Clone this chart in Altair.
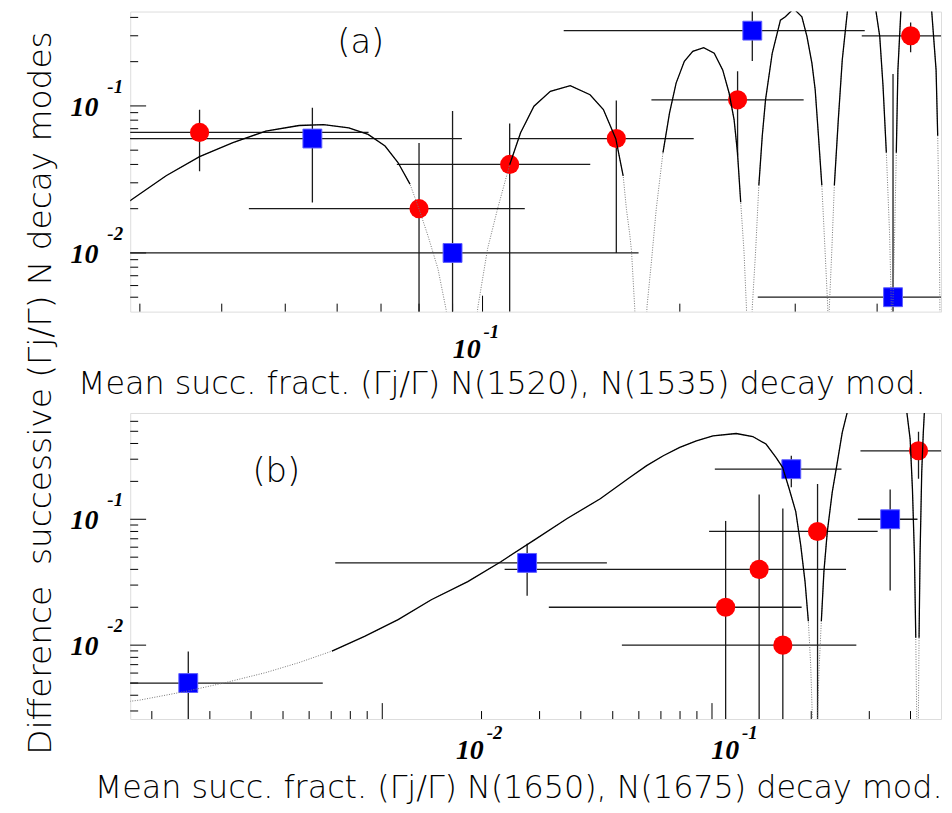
import altair as alt
import pandas as pd

# ---------------- panel (a): N(1520), N(1535) ----------------
a_red_x   = [0.037, 0.080, 0.110, 0.160, 0.245, 0.450]
a_red_y   = [0.066, 0.020, 0.040, 0.060, 0.110, 0.300]
a_red_xlo = [0.020, 0.044, 0.074, 0.110, 0.181, 0.379]
a_red_xhi = [0.067, 0.116, 0.146, 0.210, 0.309, 0.600]
a_red_ylo = [0.036, 0.001, 0.001, 0.010, 0.046, 0.232]
a_red_yhi = [0.094, 0.056, 0.076, 0.109, 0.172, 0.370]

a_blue_x   = [0.055, 0.090, 0.258, 0.423]
a_blue_y   = [0.060, 0.010, 0.325, 0.005]
a_blue_xlo = [0.020, 0.020, 0.133, 0.263]
a_blue_xhi = [0.093, 0.173, 0.383, 0.600]
a_blue_ylo = [0.022, 0.001, 0.202, 0.001]
a_blue_yhi = [0.097, 0.0925, 0.446, 0.165]

a_arc1_x = [0.0285, 0.0329, 0.0370, 0.0416, 0.0467, 0.0525, 0.0572, 0.0625, 0.0669, 0.0710,
            0.0743, 0.0775, 0.0800, 0.0825, 0.0855, 0.0880, 0.0885]
a_arc1_y = [0.0215, 0.0335, 0.0452, 0.0562, 0.0675, 0.0736, 0.0747, 0.0710, 0.0640, 0.0534,
            0.0412, 0.0294, 0.0199, 0.0132, 0.0078, 0.0041, 0.0030]
a_arc2_x = [0.0979, 0.0983, 0.1018, 0.1054, 0.1100, 0.1143, 0.1198, 0.1269, 0.1361, 0.1459,
            0.1529, 0.1597, 0.1639, 0.1658, 0.1678, 0.1688, 0.1707, 0.1712]
a_arc2_y = [0.0030, 0.0042, 0.0107, 0.0199, 0.0398, 0.0657, 0.0995, 0.1257, 0.1372, 0.1192,
            0.0944, 0.0599, 0.0335, 0.0198, 0.0132, 0.0102, 0.0042, 0.0030]
a_arc3_x = [0.1778, 0.1782, 0.1810, 0.1841, 0.1885, 0.1929, 0.1974, 0.2032, 0.2093, 0.2175,
            0.2257, 0.2325, 0.2378, 0.2420, 0.2449, 0.2477, 0.2506, 0.2527, 0.2534]
a_arc3_y = [0.0030, 0.0043, 0.0087, 0.0199, 0.0481, 0.0897, 0.1430, 0.2014, 0.2352, 0.2491,
            0.2281, 0.1759, 0.1224, 0.0808, 0.0481, 0.0221, 0.0102, 0.0043, 0.0030]
a_arc4_x = [0.2574, 0.2580, 0.2610, 0.2640, 0.2672, 0.2703, 0.2767, 0.2848, 0.2898, 0.2983,
            0.3071, 0.3126, 0.3181, 0.3218, 0.3255, 0.3294, 0.3332, 0.3363, 0.3367]
a_arc4_y = [0.0030, 0.0043, 0.0102, 0.0288, 0.0627, 0.1103, 0.2281, 0.3829, 0.4037, 0.4594,
            0.4037, 0.2972, 0.1952, 0.1289, 0.0627, 0.0288, 0.0102, 0.0043, 0.0030]
a_arc5_x = [0.3379, 0.3382, 0.3411, 0.3442, 0.3490, 0.3539, 0.3614, 0.3640]
a_arc5_y = [0.0030, 0.0043, 0.0102, 0.0288, 0.0804, 0.2055, 0.4966, 0.6000]
a_arc6_x = [0.3939, 0.3968, 0.4037, 0.4084, 0.4132, 0.4180, 0.4205, 0.4208]
a_arc6_y = [0.6000, 0.4966, 0.2972, 0.1365, 0.0481, 0.0132, 0.0043, 0.0030]
a_arc7_x = [0.4224, 0.4227, 0.4254, 0.4279, 0.4303, 0.4354, 0.4366]
a_arc7_y = [0.0030, 0.0043, 0.0132, 0.0481, 0.1751, 0.4966, 0.6000]
a_arc8_x = [0.4825, 0.4836, 0.4921, 0.4949, 0.4978, 0.4987, 0.4990]
a_arc8_y = [0.6000, 0.4966, 0.1751, 0.0627, 0.0132, 0.0043, 0.0030]

# ---------------- panel (b): N(1650), N(1675) ----------------
b_red_x   = [0.110, 0.139, 0.164, 0.209, 0.423]
b_red_y   = [0.020, 0.040, 0.010, 0.080, 0.350]
b_red_xlo = [0.032, 0.0235, 0.0533, 0.098, 0.282]
b_red_xhi = [0.187, 0.255, 0.274, 0.318, 0.600]
b_red_ylo = [0.001, 0.001, 0.001, 0.001, 0.2096]
b_red_yhi = [0.097, 0.157, 0.1215, 0.191, 0.495]

b_blue_x   = [0.00258, 0.0275, 0.174, 0.347]
b_blue_y   = [0.005, 0.045, 0.250, 0.100]
b_blue_xlo = [0.001, 0.0072, 0.102, 0.277]
b_blue_xhi = [0.0066, 0.048, 0.247, 0.420]
b_blue_ylo = [0.001, 0.0247, 0.180, 0.0272]
b_blue_yhi = [0.0089, 0.064, 0.320, 0.1725]

b_arc1_x = [0.001715, 0.001838, 0.002577, 0.003355, 0.004429, 0.005582, 0.007035, 0.008867,
            0.01117, 0.01408, 0.01817, 0.02289, 0.02887, 0.03637, 0.04583, 0.05644, 0.06337,
            0.07116, 0.07983, 0.08968, 0.1007, 0.1184, 0.1329, 0.1458, 0.1563, 0.1637, 0.1714,
            0.1795, 0.1858, 0.1915, 0.1960, 0.1992, 0.2016, 0.2020]
b_arc1_y = [0.00358, 0.00366, 0.00433, 0.00505, 0.00605, 0.00726, 0.00897, 0.01178,
            0.01595, 0.02294, 0.03199, 0.04603, 0.0683, 0.1013, 0.1457, 0.2157, 0.2668,
            0.3199, 0.3720, 0.4202, 0.4603, 0.4799, 0.4545, 0.3958, 0.3102, 0.2586, 0.1747,
            0.1150, 0.0623, 0.0320, 0.0155, 0.0070, 0.0026, 0.0020]
b_arc2_x = [0.2088, 0.2090, 0.2111, 0.2146, 0.2185, 0.2237, 0.2316, 0.2399, 0.2483, 0.2570, 0.2612]
b_arc2_y = [0.0020, 0.0026, 0.00623, 0.0155, 0.0384, 0.0794, 0.1643, 0.2833, 0.4887, 0.7030, 0.8700]
b_arc3_x = [0.3853, 0.3900, 0.3990, 0.4054, 0.4111, 0.4150, 0.4178, 0.4180]
b_arc3_y = [0.8700, 0.7030, 0.4334, 0.1747, 0.0520, 0.01144, 0.0026, 0.0020]
b_arc4_x = [0.4225, 0.4227, 0.4246, 0.4276, 0.4326, 0.4374, 0.4406, 0.4420]
b_arc4_y = [0.0020, 0.0026, 0.01144, 0.0520, 0.2362, 0.4887, 0.7030, 0.8700]

# axis ticks and labels
a_xtick_minor = [0.03, 0.04, 0.05, 0.06, 0.07, 0.08, 0.09, 0.2, 0.3, 0.4]
a_xtick_major = [0.1]
a_ytick_minor = [0.005, 0.006, 0.007, 0.008, 0.009, 0.02, 0.03, 0.04, 0.05, 0.06, 0.07,
                 0.08, 0.09, 0.2, 0.3, 0.4]
a_ytick_major = [0.01, 0.1]
b_xtick_minor = [0.002, 0.003, 0.004, 0.005, 0.006, 0.007, 0.008, 0.009, 0.02, 0.03, 0.04,
                 0.05, 0.06, 0.07, 0.08, 0.09, 0.2, 0.3, 0.4]
b_xtick_major = [0.01, 0.1]
b_ytick_minor = [0.003, 0.004, 0.005, 0.006, 0.007, 0.008, 0.009, 0.02, 0.03, 0.04, 0.05,
                 0.06, 0.07, 0.08, 0.09, 0.2, 0.3, 0.4, 0.5, 0.6]
b_ytick_major = [0.01, 0.1]
a_xlab_at = [0.1]              # where the "10^n" labels sit on the x axis, as read
b_xlab_at = [0.0206, 0.1225]
a_xlab_exp = ["-1"]
a_ylab_exp = ["-2", "-1"]
b_xlab_exp = ["-2", "-1"]
b_ylab_exp = ["-2", "-1"]

a_xtitle = "Mean succ. fract. (\u0393j/\u0393) N(1520), N(1535) decay mod."
b_xtitle = "Mean succ. fract. (\u0393j/\u0393) N(1650), N(1675) decay mod."
ytitle = "Difference\u00a0\u00a0successive (\u0393j/\u0393) N decay modes"

TFONT = "DejaVu Sans"
LFONT = "Liberation Serif"
W = 816


def pts(x, y, xlo, xhi, ylo, yhi):
    return pd.DataFrame(dict(x=x, y=y, xlo=xlo, xhi=xhi, ylo=ylo, yhi=yhi))


def arcs(*pairs):
    rows = []
    for s, (xs, ys) in enumerate(pairs):
        for i, (xv, yv) in enumerate(zip(xs, ys)):
            rows.append(dict(seg=s, i=i, x=xv, y=yv))
    return pd.DataFrame(rows)


def panel(H, xdom, ydom, red, blue, curve, thr, xmin, xmaj, ymin, ymaj, xlab_at,
          xexp, yexp, tag, tagpos, xtitle, xtitle_pos, xlab_y, extra=None):
    xs = alt.Scale(type="log", domain=xdom, nice=False)
    ys = alt.Scale(type="log", domain=ydom, nice=False)
    X = lambda f: alt.X(f, type="quantitative", scale=xs, axis=None)
    Y = lambda f: alt.Y(f, type="quantitative", scale=ys, axis=None)
    layers = []
    # ticks (inward, ROOT style)
    layers.append(alt.Chart(pd.DataFrame({"v": xmin})).mark_rule(color="black", strokeWidth=1)
                  .encode(x=X("v"), y=alt.value(H), y2=alt.value(H - 8)))
    layers.append(alt.Chart(pd.DataFrame({"v": xmaj})).mark_rule(color="black", strokeWidth=1)
                  .encode(x=X("v"), y=alt.value(H), y2=alt.value(H - 16)))
    layers.append(alt.Chart(pd.DataFrame({"v": ymin})).mark_rule(color="black", strokeWidth=1)
                  .encode(y=Y("v"), x=alt.value(0), x2=alt.value(8)))
    layers.append(alt.Chart(pd.DataFrame({"v": ymaj})).mark_rule(color="black", strokeWidth=1)
                  .encode(y=Y("v"), x=alt.value(0), x2=alt.value(16)))
    # error bars
    for df in (red, blue):
        layers.append(alt.Chart(df).mark_rule(color="#1a1a1a", strokeWidth=1.3, clip=True)
                      .encode(x=X("xlo"), x2="xhi", y=Y("y")))
        layers.append(alt.Chart(df).mark_rule(color="#1a1a1a", strokeWidth=1.3, clip=True)
                      .encode(x=X("x"), y=Y("ylo"), y2="yhi"))
    # markers
    layers.append(alt.Chart(red).mark_point(shape="circle", filled=True, size=372,
                                            color="#ff0000", opacity=1, clip=True)
                  .encode(x=X("x"), y=Y("y")))
    layers.append(alt.Chart(blue).mark_point(shape="square", filled=True, size=361,
                                             color="#0000ff", stroke="#6060ff", strokeWidth=1,
                                             opacity=1, clip=True)
                  .encode(x=X("x"), y=Y("y")))
    # curve: thin dotted everywhere, solid where it is not too steep / low
    layers.append(alt.Chart(curve).mark_line(color="#777777", strokeWidth=1,
                                             strokeDash=[1, 1.5], clip=True)
                  .encode(x=X("x"), y=Y("y"), detail="seg:N", order="i:Q"))
    layers.append(alt.Chart(curve).transform_filter(alt.datum.y >= thr)
                  .mark_line(color="black", strokeWidth=1.3, clip=True)
                  .encode(x=X("x"), y=Y("y"), detail="seg:N", order="i:Q"))
    # tick labels
    layers.append(alt.Chart(pd.DataFrame({"v": xlab_at, "t": ["10"] * len(xlab_at)}))
                  .mark_text(font=LFONT, fontStyle="italic", fontWeight="bold", fontSize=28,
                             align="right", baseline="alphabetic", dx=-2, color="black")
                  .encode(x=X("v"), y=alt.value(xlab_y), text="t:N"))
    layers.append(alt.Chart(pd.DataFrame({"v": xlab_at, "t": xexp}))
                  .mark_text(font=LFONT, fontStyle="italic", fontWeight="bold", fontSize=19,
                             align="left", baseline="alphabetic", dx=1, color="black")
                  .encode(x=X("v"), y=alt.value(xlab_y - 20), text="t:N"))
    layers.append(alt.Chart(pd.DataFrame({"v": ymaj, "t": ["10"] * len(ymaj)}))
                  .mark_text(font=LFONT, fontStyle="italic", fontWeight="bold", fontSize=28,
                             align="right", baseline="alphabetic", dy=10, color="black")
                  .encode(y=Y("v"), x=alt.value(-32), text="t:N"))
    layers.append(alt.Chart(pd.DataFrame({"v": ymaj, "t": yexp}))
                  .mark_text(font=LFONT, fontStyle="italic", fontWeight="bold", fontSize=19,
                             align="left", baseline="alphabetic", dy=-13, color="black")
                  .encode(y=Y("v"), x=alt.value(-23), text="t:N"))
    # panel tag and axis title
    layers.append(alt.Chart(pd.DataFrame({"t": [tag]}))
                  .mark_text(font=TFONT, fontSize=34, fontWeight=300, align="center",
                             baseline="middle", color="black")
                  .encode(x=alt.value(tagpos[0]), y=alt.value(tagpos[1]), text="t:N"))
    layers.append(alt.Chart(pd.DataFrame({"t": [xtitle]}))
                  .mark_text(font=TFONT, fontSize=32, fontWeight=300, align="center",
                             baseline="middle", color="black")
                  .encode(x=alt.value(xtitle_pos[0]), y=alt.value(xtitle_pos[1]), text="t:N"))
    if extra is not None:
        layers.append(extra)
    return alt.layer(*layers).properties(width=W, height=H)


HA = 302
HB = 308

ytitle_layer = (alt.Chart(pd.DataFrame({"t": [ytitle]}))
                .mark_text(font=TFONT, fontSize=33, fontWeight=300, align="center",
                           baseline="middle", angle=270, color="black")
                .encode(x=alt.value(-90), y=alt.value(384), text="t:N"))

top = panel(HA, [0.029, 0.5007], [0.00399, 0.4385],
            pts(a_red_x, a_red_y, a_red_xlo, a_red_xhi, a_red_ylo, a_red_yhi),
            pts(a_blue_x, a_blue_y, a_blue_xlo, a_blue_xhi, a_blue_ylo, a_blue_yhi),
            arcs((a_arc1_x, a_arc1_y), (a_arc2_x, a_arc2_y), (a_arc3_x, a_arc3_y),
                 (a_arc4_x, a_arc4_y), (a_arc5_x, a_arc5_y), (a_arc6_x, a_arc6_y),
                 (a_arc7_x, a_arc7_y), (a_arc8_x, a_arc8_y)),
            0.02, a_xtick_minor, a_xtick_major, a_ytick_minor, a_ytick_major, a_xlab_at,
            a_xlab_exp, a_ylab_exp, "(a)", (232, 32), a_xtitle, (374, HA + 73), HA + 47,
            extra=ytitle_layer)

bottom = panel(HB, [0.00172, 0.495], [0.00259, 0.699],
               pts(b_red_x, b_red_y, b_red_xlo, b_red_xhi, b_red_ylo, b_red_yhi),
               pts(b_blue_x, b_blue_y, b_blue_xlo, b_blue_xhi, b_blue_ylo, b_blue_yhi),
               arcs((b_arc1_x, b_arc1_y), (b_arc2_x, b_arc2_y), (b_arc3_x, b_arc3_y),
                    (b_arc4_x, b_arc4_y)),
               0.008, b_xtick_minor, b_xtick_major, b_ytick_minor, b_ytick_major, b_xlab_at,
               b_xlab_exp, b_ylab_exp, "(b)", (147, 59), b_xtitle, (391, HB + 69), HB + 40)

chart = (alt.vconcat(top, bottom, spacing=102, bounds="flush")
         .properties(padding={"left": 16, "top": 0, "right": 0, "bottom": 0})
         .configure_view(stroke="black", strokeWidth=1.5)
         .configure(background="white"))

chart.save("out.html", embed_options={"renderer": "svg", "actions": False})
